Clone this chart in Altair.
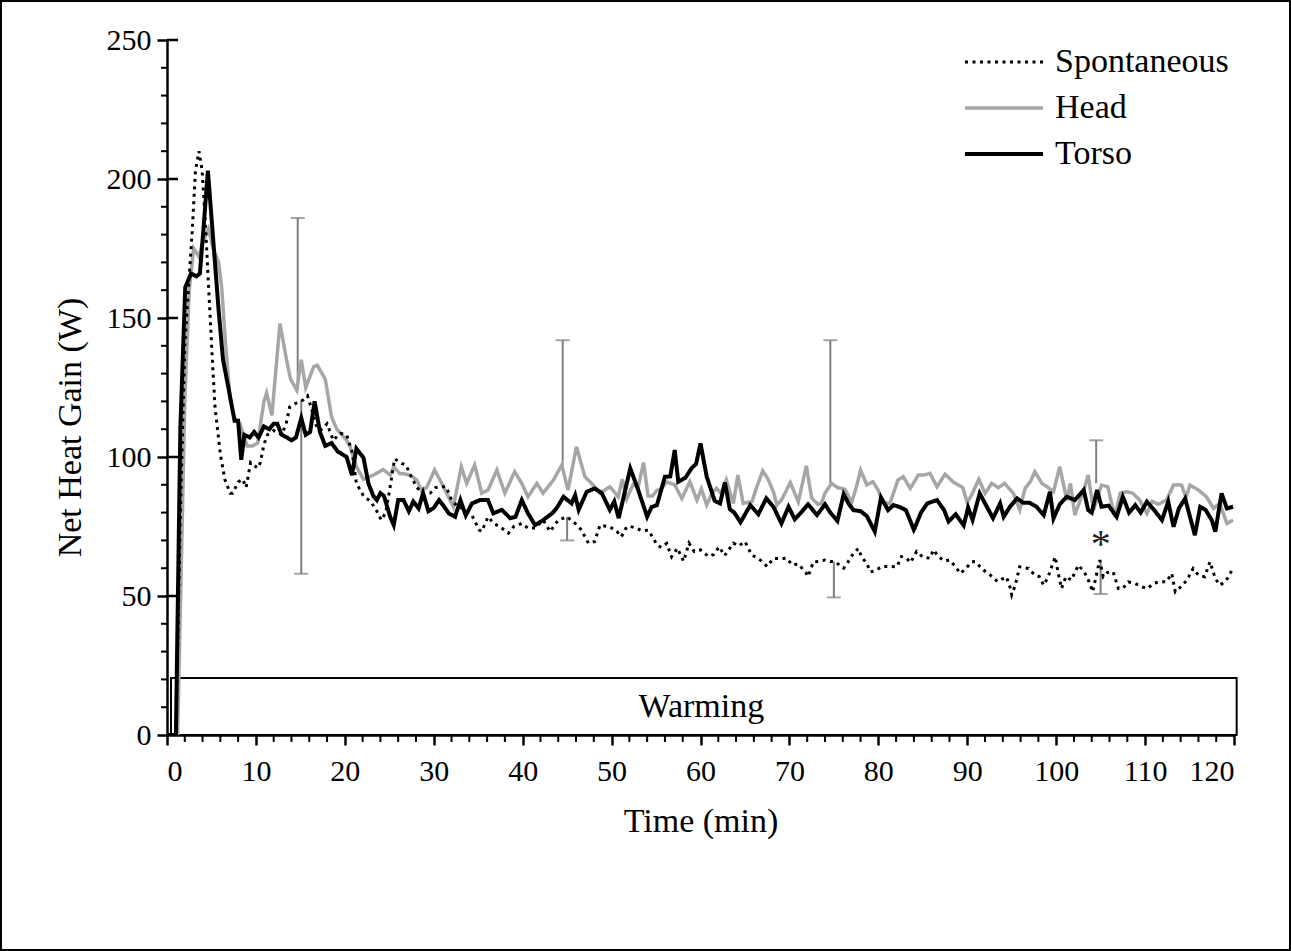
import altair as alt
import pandas as pd

series_names = ["Spontaneous", "Head", "Torso"]

torso_t = [0, 0.5, 1.0, 1.5, 2.05, 2.7, 3.3, 3.7, 4.1, 4.6, 5.2, 5.8, 6.3, 6.9, 7.6, 8.0, 8.35, 8.7, 9.3, 9.8,
           10.3, 10.9, 11.5, 12.0, 12.4, 12.9, 13.5, 14.0, 14.5, 15.1, 15.6, 16.1, 16.6, 17.2, 17.8, 18.5, 19.2, 20.2, 20.8, 21.3,
           22.1, 22.65, 23.2, 23.6, 24.0, 24.4, 25.1, 25.5, 26.0, 26.6, 27.2, 27.7, 28.3, 28.8, 29.4, 30.0, 30.6, 31.2, 31.7, 32.4,
           33.0, 33.6, 34.3, 35.2, 36.1, 36.7, 37.65, 38.6, 39.2, 39.9, 40.6, 41.4, 42.3, 43.3, 43.8, 44.6, 45.5, 45.9, 46.3, 47.2,
           48.1, 48.9, 49.8, 50.3, 50.8, 52.1, 53.0, 54.0, 54.5, 55.1, 56.0, 56.6, 57.1, 57.5, 58.3, 59.0, 59.5, 60.0, 60.7, 61.6,
           62.2, 62.75, 63.3, 63.8, 64.5, 65.6, 66.5, 67.4, 68.2, 69.1, 69.9, 70.6, 71.3, 72.1, 73.1, 74.0, 74.6, 75.4, 76.1, 76.7,
           77.2, 78.0, 78.7, 79.6, 80.3, 81.1, 81.7, 82.4, 83.1, 84.0, 84.8, 85.5, 86.6, 87.4, 87.9, 88.7, 89.6, 90.1, 90.6, 91.4,
           92.2, 92.9, 93.7, 94.1, 94.8, 95.6, 96.3, 97.0, 97.8, 98.6, 99.3, 99.7, 100.4, 101.2, 102.1, 103.1, 103.6, 104.0, 104.6, 105.1,
           105.9, 106.8, 107.5, 108.2, 108.9, 109.5, 110.2, 111.0, 111.9, 112.6, 113.2, 113.8, 114.5, 115.05, 115.6, 116.2, 116.8, 117.5, 117.9, 118.6,
           119.2, 119.9]
torso_v = [0, 0, 0, 110, 161, 166, 165, 166, 182, 203, 178, 153, 135, 125, 113, 113, 99, 108, 107, 109,
           107, 111, 110, 112, 112, 108, 107, 106, 107, 114, 108, 109, 120, 109, 104, 105, 102, 100, 93.5, 103,
           99.7, 90.5, 86, 84.5, 87, 86, 78.5, 75.5, 84.5, 84.5, 80.5, 84, 81.5, 87, 80.5, 81.7, 84.5, 82, 79.7, 78.5,
           84.5, 79, 83.3, 84.5, 84.5, 79.7, 81, 78, 78.5, 84.5, 79.7, 75.5, 77.3, 79.7, 81.5, 85.7, 83.3, 86.3, 81, 87.5,
           88.7, 87, 81, 84, 78, 95.9, 88.1, 78.5, 82, 82.7, 92.9, 93, 102.5, 91.1, 92.5, 96, 97.5, 104.9, 92.9, 84.2,
           83.3, 90.8, 81.2, 80, 76.5, 82.7, 79.4, 85.1, 82.1, 76.1, 82.1, 77.6, 80, 83, 79.1, 83, 80, 77, 86.6, 83,
           80.9, 80.5, 78.8, 73.2, 85.4, 80.9, 82.7, 82, 80.9, 73.8, 80, 83.3, 84.5, 80.9, 76.8, 79.4, 75.4, 81.8, 77.4, 86.9,
           82.1, 78, 83.3, 78.5, 82.1, 85.1, 83.5, 83.5, 82.1, 79.1, 87.5, 77.9, 83, 85.7, 84.5, 88.1, 80.9, 80, 88.1, 82.1,
           82.5, 78.5, 85.7, 80, 82.7, 80, 83.9, 81, 77.3, 83.9, 74.9, 81.5, 85.1, 78.5, 71.9, 82.1, 81, 77.3, 73.1, 86.9,
           81.5, 82.1]

head_t = [0, 0.5, 1.2, 2.0, 2.5, 3.0, 3.6, 4.0, 4.65, 5.2, 5.8, 6.15, 6.6, 7.1, 7.6, 8.2, 9.0, 9.6, 10.2, 10.9,
          11.2, 11.8, 12.7, 13.5, 13.9, 14.6, 15.1, 15.6, 16.5, 16.9, 17.8, 18.5, 19.1, 20.2, 20.6, 21.3, 22.1, 23.2, 24.3, 25.1,
          25.5, 26.2, 26.6, 27.3, 28.1, 28.6, 29.2, 30.1, 30.9, 31.45, 32.2, 33.1, 33.7, 34.6, 35.4, 36.1, 37.1, 38.0, 39.1, 39.9,
          40.6, 41.6, 42.3, 43.45, 44.4, 45.1, 46.05, 47.0, 47.75, 48.7, 49.8, 50.75, 51.2, 51.7, 52.4, 53.0, 53.6, 54.1, 54.6, 55.1,
          55.6, 56.2, 57.1, 57.9, 58.8, 59.6, 60.1, 60.7, 61.3, 61.8, 62.3, 62.9, 63.7, 64.2, 64.8, 65.8, 66.3, 67.0, 67.6, 68.2,
          68.6, 69.1, 70.1, 71.0, 71.9, 72.5, 73.2, 73.6, 74.0, 74.75, 75.4, 76.25, 77.0, 77.6, 78.0, 78.7, 79.4, 80.0, 80.5, 81.3,
          82.2, 82.8, 83.6, 84.5, 85.1, 85.8, 86.6, 87.5, 88.4, 89.0, 89.5, 90.0, 90.6, 91.3, 92.0, 92.75, 93.5, 94.2, 95.2, 95.9,
          96.5, 97.1, 97.6, 98.4, 99.1, 99.7, 100.4, 101.2, 101.6, 102.1, 103.1, 103.6, 104.2, 105.1, 105.8, 106.6, 107.2, 107.9, 108.6, 109.4,
          110.2, 110.8, 111.5, 112.4, 113.2, 113.8, 114.1, 114.6, 115.05, 116.0, 116.9, 117.7, 118.4, 119.2, 119.9]
head_v = [0, 0, 0, 120, 160, 175, 172, 177, 182, 175, 170, 161, 140, 121, 114, 112, 104, 104, 105, 120,
          123, 115, 148, 134, 128, 124, 135, 125, 132.5, 133, 128, 114.5, 110, 106, 103.7, 96.5, 92, 93.5, 95.5, 93.5,
          96.5, 94, 94, 93.5, 91.7, 88, 89, 95.3, 90.5, 87, 82.1, 96.5, 90.5, 97.1, 87, 88.1, 95.3, 87, 94.7, 90.5,
          85.7, 90.5, 87, 91.7, 97.1, 88.1, 103.7, 92.9, 90.5, 87, 89.3, 85.7, 92, 85, 90, 89.3, 98, 86, 86, 88,
          88.5, 91, 90, 85.1, 91.1, 84.5, 88.5, 82.7, 87, 88.7, 87, 91.7, 83.3, 93.5, 83.3, 84, 89, 95, 92, 87.5,
          82.7, 84.5, 90.8, 83.9, 96.8, 85.3, 83, 83.3, 87, 90.5, 89, 88.4, 83.6, 90, 95.3, 90, 91.1, 88, 83.6, 83.3,
          91.7, 92.9, 88.7, 93.5, 93.5, 94.1, 89.3, 93.8, 91.1, 89.9, 89, 83.6, 87, 92, 86.9, 90.5, 89, 90.5, 86.9, 81,
          88.7, 91.1, 94.7, 90.5, 89, 87.5, 96.5, 84.5, 90.5, 79.1, 88, 93.5, 80.9, 89.9, 89.3, 78.5, 87, 87.5, 87, 84.5,
          79.7, 84, 83, 84.5, 89.9, 90, 89.9, 85.5, 89.9, 88.1, 85.7, 81.5, 83.3, 76.1, 77.3]

spont_t = [0, 0.5, 1.0, 1.5, 2.0, 2.5, 2.85, 3.2, 3.6, 3.95, 4.3, 4.7, 5.05, 5.4, 6.0, 6.5, 7.1, 7.4, 8.0, 8.5,
           8.9, 9.4, 9.8, 10.2, 10.5, 10.9, 11.3, 12.0, 12.9, 13.4, 13.8, 14.6, 15.3, 15.8, 16.2, 16.9, 17.4, 18.0, 18.7, 19.5,
           20.2, 20.8, 21.3, 22.1, 22.9, 23.6, 24.1, 24.6, 25.1, 25.6, 26.4, 26.9, 27.3, 28.1, 28.8, 29.6, 30.2, 30.7, 31.4, 32.0,
           32.6, 33.55, 34.3, 35.1, 35.4, 36.1, 36.8, 37.45, 38.4, 39.0, 39.9, 40.6, 41.4, 42.3, 43.1, 44.0, 45.0, 45.9, 46.6, 47.4,
           48.1, 48.7, 49.8, 50.6, 51.1, 51.7, 52.1, 52.8, 53.4, 54.1, 54.7, 55.1, 55.6, 56.2, 56.75, 57.4, 58.1, 58.7, 59.3, 60.0,
           60.9, 61.5, 62.1, 62.7, 63.7, 64.3, 65.0, 65.75, 66.7, 67.5, 68.2, 69.3, 69.7, 70.3, 71.0, 71.9, 72.1, 72.7, 73.25, 74.0,
           74.6, 75.1, 76.1, 76.6, 77.2, 77.75, 78.1, 78.7, 79.1, 79.6, 80.4, 81.3, 82.1, 82.6, 83.2, 83.6, 84.3, 85.0, 85.8, 86.2,
           86.8, 87.5, 88.0, 88.7, 89.2, 89.7, 90.5, 90.9, 91.3, 91.8, 92.6, 93.4, 94.4, 94.8, 95.0, 95.4, 95.9, 96.9, 97.6, 98.1,
           98.6, 99.1, 99.9, 100.2, 100.6, 101.1, 101.7, 102.5, 103.2, 103.8, 104.1, 104.9, 105.3, 105.8, 106.4, 107.0, 107.5, 108.1, 108.9, 109.6,
           110.3, 110.9, 111.6, 112.4, 113.0, 113.4, 114.1, 114.7, 115.4, 116.0, 116.7, 117.3, 117.9, 118.4, 119.0, 119.5, 119.9]
spont_v = [0, 0, 0, 80, 140, 165, 182, 203, 210, 203, 185, 160, 138, 118, 101, 92, 87, 87, 91, 92,
           89, 98, 97, 96, 98, 104.5, 108, 109.5, 108, 112, 118, 119.5, 120.5, 122, 118, 110, 110, 112, 106, 108.5,
           108, 102, 90.5, 86, 84, 80.5, 77.3, 80, 89.3, 99.3, 97.7, 97, 94, 89, 86.8, 87, 89, 89.3, 89.3, 84.5,
           82.5, 81, 79, 73.8, 73.2, 78.5, 76, 74.9, 72.6, 75, 76.1, 74.4, 74.5, 77.3, 73.2, 77.3, 78.5, 76.1, 73.8, 69,
           69.6, 75.5, 74.9, 73.2, 71.3, 74.9, 75, 74.4, 73.5, 73.7, 70.8, 68.3, 67.5, 68.9, 64.1, 67.2, 62.5, 69, 66, 66.6,
           64.2, 65, 67.7, 64.5, 69, 68, 69.6, 64.8, 63, 60.6, 63.5, 63.5, 63.6, 61.2, 61.5, 58.2, 57, 62.3, 62.4, 62.9,
           62.4, 62.4, 60, 62.3, 65.3, 67.1, 64.1, 61.7, 58.7, 59, 60.6, 60.6, 60.5, 64.2, 63.5, 62, 66, 64, 63.6, 66.6,
           64, 62.6, 63, 60.5, 58.1, 59.4, 62.3, 62.4, 61, 59.4, 57.5, 55.2, 56.9, 53.3, 50.4, 53.9, 60.5, 59.9, 57.5, 57,
           53.9, 57, 64.1, 58.7, 52.7, 57, 55.7, 61.1, 58.5, 54.5, 51.5, 62.9, 56.9, 58.5, 58.7, 52.7, 52.7, 55.1, 54.5, 53.3,
           52.7, 54.5, 55.1, 55.1, 58.1, 51.5, 53.5, 55.7, 59.9, 57.5, 56.9, 62.3, 56.3, 53.9, 55.1, 57.5, 60.5]

# error bars (upper: from Head curve up, lower: from Spontaneous curve down)
err_up_t = [14.7, 44.5, 74.6, 104.5]
err_up_lo = [124, 97, 90.5, 90.6]
err_up_hi = [186, 142, 142, 106]
err_dn_t = [15.1, 45.0, 75.0, 105.0]
err_dn_hi = [120.5, 78.5, 62.4, 63]
err_dn_lo = [58, 70, 49.5, 50.7]

y_major = [0, 50, 100, 150, 200, 250]
x_major = list(range(0, 121, 10))

FONT = "Liberation Serif"
W, H = 1067, 695

df = pd.concat([
    pd.DataFrame({"series": "Spontaneous", "t": spont_t, "v": spont_v}),
    pd.DataFrame({"series": "Head", "t": head_t, "v": head_v}),
    pd.DataFrame({"series": "Torso", "t": torso_t, "v": torso_v}),
], ignore_index=True)

xs = alt.Scale(domain=[0, 120], nice=False, zero=False)
ys = alt.Scale(domain=[0, 250], nice=False)

legend = alt.Legend(title=None, orient="none", legendX=796, legendY=3,
                    symbolType="stroke", symbolSize=6084, labelFont=FONT,
                    labelFontSize=34, labelColor="black", labelOffset=10, labelLimit=0,
                    rowPadding=8, clipHeight=38, padding=0)

color_enc = alt.Color("series:N", scale=alt.Scale(domain=series_names, range=["#000000", "#A6A6A6", "#000000"]), legend=legend)
dash_enc = alt.StrokeDash("series:N", scale=alt.Scale(domain=series_names, range=[[3, 4.5], [1, 0], [1, 0]]), legend=legend)
width_enc = alt.StrokeWidth("series:N", scale=alt.Scale(domain=series_names, range=[3, 4, 4]), legend=legend)

base = alt.Chart(df).mark_line(clip=True).encode(
    x=alt.X("t:Q", scale=xs, axis=alt.Axis(values=x_major, title="Time (min)", titleY=86, titleBaseline="middle",
                                            labelPadding=11, format="d")),
    y=alt.Y("v:Q", scale=ys, axis=alt.Axis(values=y_major, title="Net Heat Gain (W)", titleX=-97, titleY=387,
                                            titleAngle=-90, titleBaseline="middle", labelPadding=6)),
    color=color_enc, strokeDash=dash_enc, strokeWidth=width_enc,
)
line_head = base.transform_filter(alt.datum.series == "Head")
line_spont = base.transform_filter(alt.datum.series == "Spontaneous")
line_torso = base.transform_filter(alt.datum.series == "Torso")

err_up = pd.DataFrame({"t": err_up_t, "lo": err_up_lo, "hi": err_up_hi})
err_dn = pd.DataFrame({"t": err_dn_t, "lo": err_dn_lo, "hi": err_dn_hi})
ERR = "#7F7F7F"
up_rule = alt.Chart(err_up).mark_rule(color=ERR, strokeWidth=2).encode(x=alt.X("t:Q", scale=xs), y=alt.Y("lo:Q", scale=ys), y2="hi:Q")
up_cap = alt.Chart(err_up).mark_tick(color=ERR, orient="horizontal", size=14, thickness=2).encode(x=alt.X("t:Q", scale=xs), y=alt.Y("hi:Q", scale=ys))
dn_rule = alt.Chart(err_dn).mark_rule(color=ERR, strokeWidth=2).encode(x=alt.X("t:Q", scale=xs), y=alt.Y("lo:Q", scale=ys), y2="hi:Q")
dn_cap = alt.Chart(err_dn).mark_tick(color=ERR, orient="horizontal", size=14, thickness=2).encode(x=alt.X("t:Q", scale=xs), y=alt.Y("lo:Q", scale=ys))

# warming box and labels
box_df = pd.DataFrame({"x0": [0.45], "x1": [120.3], "y0": [0], "y1": [20.5]})
box = alt.Chart(box_df).mark_rect(fillOpacity=0, stroke="black", strokeWidth=2, clip=False).encode(
    x=alt.X("x0:Q", scale=xs), x2="x1:Q", y=alt.Y("y0:Q", scale=ys), y2="y1:Q")
txt_df = pd.DataFrame({"t": [60.1], "v": [10.0], "label": ["Warming"]})
warm_txt = alt.Chart(txt_df).mark_text(font=FONT, fontSize=34, color="black", baseline="middle").encode(
    x=alt.X("t:Q", scale=xs), y=alt.Y("v:Q", scale=ys), text="label:N")
ast_df = pd.DataFrame({"t": [105.0], "v": [68.5], "label": ["*"]})
ast_txt = alt.Chart(ast_df).mark_text(font=FONT, fontSize=40, color="#222222", baseline="middle").encode(
    x=alt.X("t:Q", scale=xs), y=alt.Y("v:Q", scale=ys), text="label:N")

# minor / crossing ticks
y_minor = [v for v in range(10, 250, 10) if v % 50]
x_minor = [v for v in range(2, 120, 2) if v % 10]
ymin = alt.Chart(pd.DataFrame({"v": y_minor})).mark_rule(color="black", strokeWidth=2).encode(
    y=alt.Y("v:Q", scale=ys), x=alt.value(-6), x2=alt.value(0))
yin = alt.Chart(pd.DataFrame({"v": y_major[1:]})).mark_rule(color="black", strokeWidth=2.5).encode(
    y=alt.Y("v:Q", scale=ys), x=alt.value(0), x2=alt.value(11))
xmin = alt.Chart(pd.DataFrame({"t": x_minor})).mark_rule(color="black", strokeWidth=2).encode(
    x=alt.X("t:Q", scale=xs), y=alt.value(H), y2=alt.value(H + 7))

frame = alt.Chart(pd.DataFrame({"a": [0]})).mark_rect(fillOpacity=0, stroke="black", strokeWidth=2, clip=False).encode(
    x=alt.value(-166), x2=alt.value(W + 56), y=alt.value(-39), y2=alt.value(H + 215))

chart = alt.layer(
    frame, box, warm_txt, up_rule, up_cap, dn_rule, dn_cap,
    line_head, line_spont, line_torso, ast_txt, ymin, yin, xmin,
).properties(
    width=W, height=H,
    autosize=alt.AutoSizeParams(type="none"),
    padding={"left": 167, "top": 40, "right": 57, "bottom": 216},
    background="white",
).configure_view(stroke=None).configure_axis(
    grid=False, labelFont=FONT, labelFontSize=30, labelColor="black",
    titleFont=FONT, titleFontSize=34, titleFontWeight="normal", titleColor="black",
    domainColor="black", domainWidth=2.5, tickColor="black", tickWidth=2.5, tickSize=10,
)

chart.save("out.html", embed_options={"renderer": "svg", "actions": False})
